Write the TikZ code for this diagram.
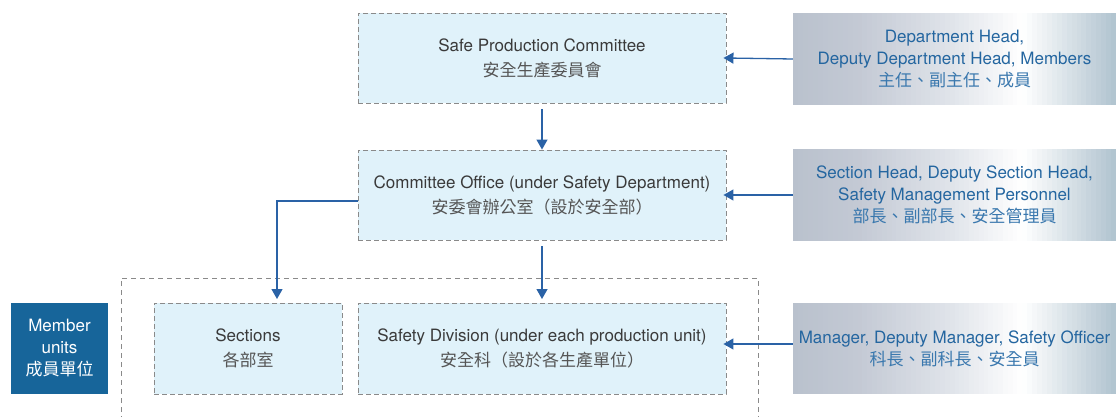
\documentclass[tikz,border=0pt]{standalone}
\usepackage{fontspec}
\setmainfont{TeX Gyre Heros}
\newfontfamily\cjk{Noto Sans CJK TC}
\usetikzlibrary{arrows.meta,backgrounds}
\definecolor{boxfill}{HTML}{E0F2FA}
\definecolor{boxline}{HTML}{8A8A8A}
\definecolor{arrowblue}{HTML}{2A62A6}
\definecolor{txtgray}{HTML}{3A3A3A}
\definecolor{cjkgray}{HTML}{555555}
\definecolor{txtblue}{HTML}{2466A0}
\definecolor{cjkblue}{HTML}{3A78AE}
\definecolor{unitblue}{HTML}{17659A}
\definecolor{gA}{HTML}{B9C1CD}
\definecolor{gA2}{HTML}{C3C9D4}
\definecolor{gB}{HTML}{E1E5EB}
\definecolor{gC}{HTML}{B0C3CF}
% strips: #1 x0, #2 x1, #3 count, #4 left colour, #5 right colour, #6 top y, #7 bottom y
\newcommand\gradseg[7]{%
  \foreach \k in {1,...,#3}{%
    \pgfmathsetmacro\xa{#1+(#2-#1)*(\k-1)/#3}%
    \pgfmathsetmacro\xb{#1+(#2-#1)*\k/#3+0.6}%
    \pgfmathtruncatemacro\pct{100*(\k-0.5)/#3}%
    \fill[#5!\pct!#4] (\xa,#6) rectangle (\xb,#7);
  }%
}
\newcommand\rolefill[2]{%
  \gradseg{793}{857.6}{13}{gA}{gA2}{#1}{#2}
  \gradseg{857.6}{954.5}{20}{gA2}{gB}{#1}{#2}
  \gradseg{954.5}{1022.3}{14}{gB}{white}{#1}{#2}
  \gradseg{1022.3}{1116}{19}{white}{gC}{#1}{#2}
}
\tikzset{
  orgbox/.style={draw=boxline, line width=0.9pt, dash pattern=on 5pt off 3pt, fill=boxfill,
    text=txtgray, align=center, font=\fontsize{17}{25}\selectfont, inner sep=0pt},
  rolebox/.style={draw=none, text=txtblue, align=center,
    font=\fontsize{17}{22}\selectfont, minimum width=323pt, minimum height=92pt, inner sep=0pt},
  link/.style={draw=arrowblue, line width=1.3pt, -{Triangle[length=10pt,width=11pt]}},
}
\begin{document}
\begin{tikzpicture}[x=1pt,y=-1pt]
\useasboundingbox (0,0) rectangle (1116,417);
\clip (0,0) rectangle (1116,417);
% outer group
\draw[boxline, line width=0.9pt, dash pattern=on 5pt off 4pt] (121,430) |- (758,278) -- (758,430);
% boxes
\node[orgbox, minimum width=368pt, minimum height=90pt] (spc) at (542,58)
  {Safe Production Committee\\{\cjk\color{cjkgray} 安全生產委員會}};
\node[orgbox, minimum width=368pt, minimum height=90pt] (off) at (542,195)
  {Committee Office (under Safety Department)\\{\cjk\color{cjkgray} 安委會辦公室（設於安全部）}};
\node[orgbox, minimum width=188pt, minimum height=91pt] (sec) at (248,348.5)
  {Sections\\{\cjk\color{cjkgray} 各部室}};
\node[orgbox, minimum width=368pt, minimum height=91pt] (div) at (542,348.5)
  {Safety Division (under each production unit)\\{\cjk\color{cjkgray} 安全科（設於各生產單位）}};
\node[fill=unitblue, text=white, align=center, font=\fontsize{17}{22}\selectfont,
  minimum width=97pt, minimum height=91pt, inner sep=0pt] (mem) at (59.5,348.5)
  {Member\\units\\{\cjk 成員單位}};
% role boxes
\node[rolebox] (r1) at (954.5,59) {Department Head,\\Deputy Department Head, Members\\{\cjk\color{cjkblue} 主任、副主任、成員}};
\node[rolebox] (r2) at (954.5,195) {Section Head, Deputy Section Head,\\Safety Management Personnel\\{\cjk\color{cjkblue} 部長、副部長、安全管理員}};
\node[rolebox, minimum height=91pt] (r3) at (954.5,348.5) {Manager, Deputy Manager, Safety Officer\\{\cjk\color{cjkblue} 科長、副科長、安全員}};
\begin{scope}[on background layer]
  \rolefill{13}{105}
  \rolefill{149}{241}
  \rolefill{303}{394}
\end{scope}
% arrows
\coordinate (t1) at (542,109);
\coordinate (t2) at (542,246);
\coordinate (b2) at (542,299);
\coordinate (b1) at (277,299);
\coordinate (l1) at (358,201);
\draw[link] (t1) -- (off.north);
\draw[link] (t2) -- (b2);
\draw[link] (l1) -| (b1);
\draw[link, shorten >=-3pt] (r1.west) -- (spc.east);
\draw[link, shorten >=-3pt] (r2.west) -- (off.east);
\draw[link, shorten >=-3pt] (r3.west |- 0,344) -- (div.east |- 0,344);
\end{tikzpicture}
\end{document}
